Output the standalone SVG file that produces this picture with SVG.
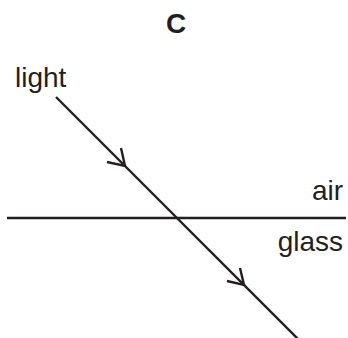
<svg xmlns="http://www.w3.org/2000/svg" width="348" height="338" viewBox="0 0 348 338">
<style>
text{font-family:"Liberation Sans",Arial,sans-serif;fill:#231f20;font-size:28px}
.ln{stroke:#231f20;stroke-width:2.4;fill:none}
.ah{stroke:#231f20;stroke-width:2.4;fill:none;stroke-linejoin:miter}
</style>
<rect width="348" height="338" fill="#fff"/>
<g id="title"><text x="176" y="33" text-anchor="middle" font-weight="bold" font-size="27">C</text></g>
<g id="label-light"><text x="15" y="87">light</text></g>
<g id="label-air"><text x="343" y="200" text-anchor="end">air</text></g>
<g id="label-glass"><text x="343" y="251" text-anchor="end">glass</text></g>
<g id="boundary"><line class="ln" x1="7" y1="218" x2="346" y2="218"/></g>
<g id="connectors">
<line class="ln" x1="56" y1="97" x2="298" y2="339"/>
<polyline class="ah" points="107,162 125,166 121,148"/>
<polyline class="ah" points="227,281 244,285 240,268"/>
</g>
</svg>
